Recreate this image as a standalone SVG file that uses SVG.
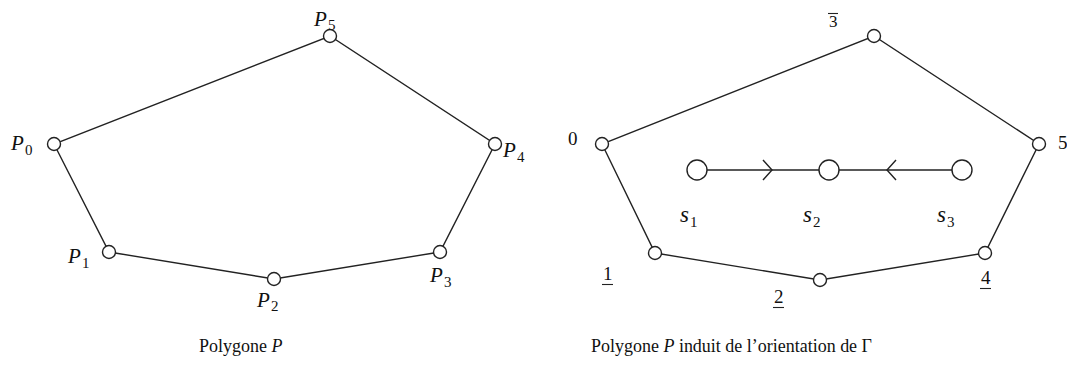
<svg xmlns="http://www.w3.org/2000/svg" width="1067" height="390" viewBox="0 0 1067 390">
<style>
text{font-family:"Liberation Serif","DejaVu Serif",serif;fill:#111}
.it{font-style:italic;font-size:21px}
.sub{font-size:15px}
.dg{font-size:19px}
.sm{font-size:17px}
.cap{font-size:18px}
.e{stroke:#222;stroke-width:1.4;fill:none}
.v{fill:#fff;stroke:#222;stroke-width:1.4}
.u{stroke:#222;stroke-width:1.1}
</style>
<rect width="1067" height="390" fill="#fff"/>
<g id="connectors">
<polygon class="e" points="54,144 109,252 274,279 440,252 495,144 330,36"/>
<polygon class="e" points="602,144 655,253 820,280 985,253 1039,144 874,36"/>
<line class="e" x1="697" y1="170" x2="829" y2="170"/>
<line class="e" x1="829" y1="170" x2="962" y2="170"/>
<polyline class="e" points="763,160 772,170 763,180"/>
<polyline class="e" points="896,160 887,170 896,180"/>
</g>
<g id="P0"><circle class="v" cx="54" cy="144" r="6.5"/><text class="it" x="11" y="150">P</text><text class="sub" x="25" y="155">0</text></g>
<g id="P1"><circle class="v" cx="109" cy="252" r="6.5"/><text class="it" x="68" y="263">P</text><text class="sub" x="82" y="268">1</text></g>
<g id="P2"><circle class="v" cx="274" cy="279" r="6.5"/><text class="it" x="257" y="307">P</text><text class="sub" x="271" y="311">2</text></g>
<g id="P3"><circle class="v" cx="440" cy="252" r="6.5"/><text class="it" x="430" y="282">P</text><text class="sub" x="444" y="287">3</text></g>
<g id="P4"><circle class="v" cx="495" cy="144" r="6.5"/><text class="it" x="503" y="157">P</text><text class="sub" x="517" y="162">4</text></g>
<g id="P5"><circle class="v" cx="330" cy="36" r="6.5"/><text class="it" x="314" y="26">P</text><text class="sub" x="328" y="30">5</text></g>
<g id="v0"><circle class="v" cx="602" cy="144" r="6.5"/><text class="dg" x="568" y="145">0</text></g>
<g id="v1"><circle class="v" cx="655" cy="253" r="6.5"/><text class="dg" x="603" y="280">1</text><line class="u" x1="602" y1="284.5" x2="613" y2="284.5"/></g>
<g id="v2"><circle class="v" cx="820" cy="280" r="6.5"/><text class="dg" x="774" y="303">2</text><line class="u" x1="773" y1="307.5" x2="784" y2="307.5"/></g>
<g id="v4"><circle class="v" cx="985" cy="253" r="6.5"/><text class="dg" x="981" y="284">4</text><line class="u" x1="980" y1="288.5" x2="991" y2="288.5"/></g>
<g id="v5"><circle class="v" cx="1039" cy="144" r="6.5"/><text class="dg" x="1058" y="149">5</text></g>
<g id="v3"><circle class="v" cx="874" cy="36" r="6.5"/><text class="sm" x="829" y="27">3</text><line class="u" x1="828" y1="13.5" x2="838" y2="13.5"/></g>
<g id="s1"><circle class="v" cx="697" cy="170" r="10"/><text class="it" x="680" y="222" style="font-size:23px">s</text><text class="sub" x="690" y="227">1</text></g>
<g id="s2"><circle class="v" cx="829" cy="170" r="10"/><text class="it" x="803" y="222" style="font-size:23px">s</text><text class="sub" x="813" y="227">2</text></g>
<g id="s3"><circle class="v" cx="962" cy="170" r="10"/><text class="it" x="937" y="222" style="font-size:23px">s</text><text class="sub" x="947" y="227">3</text></g>
<g id="captions">
<text class="cap" x="199" y="352">Polygone <tspan font-style="italic">P</tspan></text>
<text class="cap" x="591" y="352" textLength="281" lengthAdjust="spacingAndGlyphs">Polygone <tspan font-style="italic">P</tspan> induit de l’orientation de Γ</text>
</g>
</svg>
